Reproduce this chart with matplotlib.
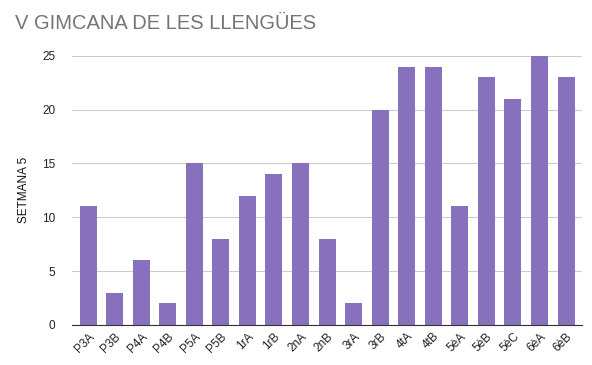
import matplotlib.pyplot as plt

plt.rcParams['font.family'] = ['Liberation Sans', 'DejaVu Sans']

grups = ['P3A', 'P3B', 'P4A', 'P4B', 'P5A', 'P5B', '1rA', '1rB', '2nA', '2nB',
         '3rA', '3rB', '4tA', '4tB', '5èA', '5èB', '5èC', '6èA', '6èB']
punts = [11, 3, 6, 2, 15, 8, 12, 14, 15, 8, 2, 20, 24, 24, 11, 23, 21, 25, 23]
yticks = [0, 5, 10, 15, 20, 25]

fig = plt.figure(figsize=(5.92, 3.65), dpi=100)
ax = fig.add_axes([0.122, 0.110, 0.861, 0.737])

x = range(len(grups))
ax.bar(x, punts, width=0.64, color='#8771bc', zorder=3)

ax.set_ylim(0, 25)
ax.set_xlim(-0.6, len(grups) - 0.4)
ax.set_yticks(yticks)
ax.set_xticks(list(x))
ax.set_xticklabels(grups, rotation=45, ha='right', rotation_mode='anchor', fontsize=8.5, color='#222222')
ax.tick_params(axis='y', labelsize=8.5, colors='#222222', length=0, pad=12)
ax.tick_params(axis='x', length=0, pad=4)
ax.grid(axis='y', color='#cccccc', linewidth=0.8, zorder=0)
for s in ['top', 'right', 'left']:
    ax.spines[s].set_visible(False)
ax.spines['bottom'].set_color('#333333')
ax.spines['bottom'].set_zorder(4)

ax.set_ylabel('SETMANA 5', fontsize=8.5, color='#111111', labelpad=9)
fig.text(0.025, 0.935, 'V GIMCANA DE LES LLENGÜES', fontsize=14.5, color='#757575', va='center')

fig.savefig('out.png', dpi=100)
